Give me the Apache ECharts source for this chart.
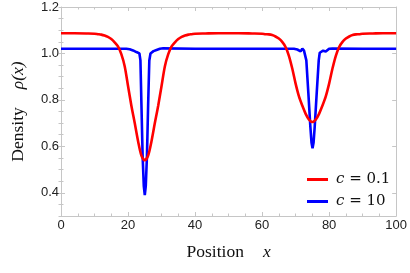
<!DOCTYPE html>
<html>
<head>
<meta charset="utf-8">
<script src="https://cdn.jsdelivr.net/npm/echarts@6/dist/echarts.min.js"></script>
<style>
html,body{margin:0;padding:0;background:#fff;}
#chart{width:410px;height:273px;}
</style>
</head>
<body>
<div id="chart"></div>
<script>
// ---- data ----
var xTicks = [0, 20, 40, 60, 80, 100];
var yTickLabels = [0.4, 0.6, 0.8, 1.0, 1.2];

var redName = 'c = 0.1';
var blueName = 'c = 10';

var redX = [0, 4, 8, 10, 11, 12, 13, 14, 15, 16, 17, 18, 19, 20, 21, 22, 23, 24, 25,
  26, 27, 28, 29, 30, 31, 32, 33, 34, 35, 36, 37, 38, 39, 40, 43, 47, 50, 53, 57,
  60, 61, 62, 63, 64, 65, 66, 67, 68, 69, 70, 71, 72, 73, 74, 75, 76, 77, 78, 79,
  80, 81, 82, 83, 84, 85, 86, 87, 88, 89, 90, 93, 96, 100];
var redY = [1.087, 1.087, 1.086, 1.085, 1.083, 1.081, 1.077, 1.071, 1.062, 1.048, 1.030, 0.997, 0.945, 0.86, 0.775, 0.70, 0.622, 0.56, 0.54,
  0.56, 0.622, 0.70, 0.775, 0.86, 0.945, 0.997, 1.030, 1.048, 1.062, 1.071, 1.077, 1.081, 1.083, 1.085, 1.086, 1.087, 1.087, 1.087, 1.086,
  1.085, 1.083, 1.082, 1.079, 1.073, 1.064, 1.050, 1.028, 0.99, 0.935, 0.87, 0.815, 0.775, 0.74, 0.715, 0.705, 0.715, 0.74, 0.775, 0.815,
  0.87, 0.935, 0.99, 1.028, 1.050, 1.064, 1.073, 1.079, 1.082, 1.083, 1.085, 1.086, 1.087, 1.087];

var blueX = [0, 10, 19.5, 20, 20.5, 21, 21.5, 22, 22.5, 23, 23.4, 23.7, 24.0, 24.35, 24.7, 25.0, 25.3, 25.65, 26.0, 26.35,
  26.7, 27.2, 27.6, 28, 28.5, 29, 29.5, 30, 30.5, 31, 40, 50, 60,
  69.5, 70, 70.5, 71, 71.5, 72, 72.5, 72.9, 73.2, 73.8, 74.4, 74.75, 75.05, 75.35, 75.7, 76.3, 76.9,
  77.2, 77.7, 78.2, 78.6, 79, 79.5, 80, 80.5, 81, 90, 100];
var blueY = [1.02, 1.02, 1.02, 1.024, 1.018, 1.021, 1.013, 1.016, 1.006, 1.008, 1.0, 0.97, 0.78, 0.56, 0.43, 0.39, 0.43, 0.56, 0.78, 0.97,
  1.0, 1.004, 1.01, 1.006, 1.015, 1.012, 1.02, 1.018, 1.022, 1.02, 1.02, 1.02, 1.02,
  1.02, 1.023, 1.017, 1.022, 1.009, 1.021, 1.012, 1.004, 0.97, 0.83, 0.685, 0.615, 0.592, 0.615, 0.685, 0.83, 0.97,
  1.003, 1.002, 1.012, 1.016, 1.008, 1.012, 1.02, 1.018, 1.021, 1.02, 1.02];

function pairs(xs, ys) {
  var out = [];
  for (var i = 0; i < xs.length; i++) out.push([xs[i], ys[i]]);
  return out;
}

var frameColor = '#c6c6c6';
var labelColor = '#222';
var serif = '"Liberation Serif", "Times New Roman", serif';

function xAxisDef(pos, labels) {
  return {
    type: 'value', position: pos, min: 0, max: 100, interval: 20,
    axisLine: { show: true, onZero: false, lineStyle: { color: frameColor, width: 1 } },
    axisTick: { show: true, inside: true, length: 4, lineStyle: { color: frameColor } },
    minorTick: { show: true, splitNumber: 4, length: 2.5, lineStyle: { color: frameColor } },
    splitLine: { show: false },
    axisLabel: { show: labels, color: labelColor, fontSize: 13, fontFamily: '"Liberation Sans", Arial, sans-serif', margin: 3 },
    name: labels ? '{a|Position}{b|x}' : '',
    nameLocation: 'middle', nameGap: 27,
    nameTextStyle: {
      rich: {
        a: { fontFamily: serif, fontSize: 17.5, color: '#111' },
        b: { fontFamily: serif, fontSize: 17.5, fontStyle: 'italic', color: '#111', padding: [0, 0, 0, 19] }
      }
    }
  };
}
function yMajor(pos, labels) {
  return {
    type: 'value', position: pos, min: 0.3, max: 1.2, interval: 0.05,
    axisLine: { show: true, onZero: false, lineStyle: { color: frameColor, width: 1 } },
    axisTick: { show: true, inside: true, length: 4, customValues: yTickLabels, lineStyle: { color: frameColor } },
    splitLine: { show: false },
    axisLabel: { show: labels, customValues: yTickLabels, color: labelColor, fontSize: 13,
      fontFamily: '"Liberation Sans", Arial, sans-serif', margin: 2,
      formatter: function (v) { return v.toFixed(1); } },
    name: labels ? '{a|Density}{b|ρ(x)}' : '',
    nameLocation: 'middle', nameRotate: 90, nameGap: 34,
    nameTextStyle: {
      rich: {
        a: { fontFamily: serif, fontSize: 17.5, color: '#111' },
        b: { fontFamily: serif, fontSize: 17.5, fontStyle: 'italic', color: '#111', padding: [0, 0, 0, 18] }
      }
    }
  };
}
function yMinor(pos) {
  return {
    type: 'value', position: pos, min: 0.3, max: 1.2, interval: 0.05,
    axisLine: { show: false },
    axisTick: { show: true, inside: true, length: 2.5, lineStyle: { color: frameColor } },
    splitLine: { show: false },
    axisLabel: { show: false }
  };
}

var chart = echarts.init(document.getElementById('chart'), null, { renderer: 'canvas' });
chart.setOption({
  animation: false,
  backgroundColor: '#fff',
  grid: { left: 61, right: 11, top: 7, bottom: 57, containLabel: false },
  xAxis: [xAxisDef('bottom', true), xAxisDef('top', false)],
  yAxis: [yMajor('left', true), yMajor('right', false), yMinor('left'), yMinor('right')],
  legend: {
    data: [redName, blueName],
    orient: 'vertical',
    left: 302, top: 167,
    itemWidth: 21, itemHeight: 3, itemGap: 7,
    icon: 'rect',
    formatter: function (name) { return '{i|c} = ' + name.split('= ')[1]; },
    textStyle: {
      fontFamily: '"DejaVu Serif", serif', fontSize: 15, color: '#111', padding: [0, 0, 0, 3],
      rich: { i: { fontFamily: '"DejaVu Serif", serif', fontSize: 15, fontStyle: 'italic', color: '#111' } }
    }
  },
  series: [
    {
      name: blueName, type: 'line', xAxisIndex: 0, yAxisIndex: 0, z: 2,
      data: pairs(blueX, blueY), showSymbol: false, symbol: 'none', smooth: false,
      lineStyle: { color: '#0000ff', width: 2.6 }, itemStyle: { color: '#0000ff' }
    },
    {
      name: redName, type: 'line', xAxisIndex: 0, yAxisIndex: 0, z: 3,
      data: pairs(redX, redY), showSymbol: false, symbol: 'none', smooth: 0.3,
      lineStyle: { color: '#ff0000', width: 2.6 }, itemStyle: { color: '#ff0000' }
    }
  ]
});
</script>
</body>
</html>
